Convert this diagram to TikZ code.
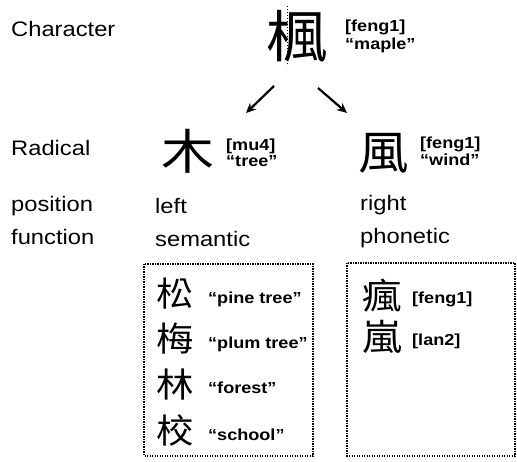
\documentclass[tikz,border=0pt]{standalone}
\usepackage{fontspec}
\setmainfont[FakeStretch=1.13]{Liberation Sans}
\newfontfamily\cjk[FakeStretch=1.1]{Noto Sans CJK TC}
\usetikzlibrary{arrows.meta}
\tikzset{
  lab/.style={anchor=base west, inner sep=0pt, font=\fontsize{21}{24}\selectfont},
  gl/.style={anchor=base west, inner sep=0pt, font=\fontsize{16}{18}\bfseries\selectfont},
  han/.style={inner sep=0pt},
  arr/.style={line width=2.2pt, -{Stealth[length=10pt,width=9pt]}},
  dotbox/.style={draw, line width=1.5pt, dash pattern=on 1.2pt off 1.3pt},
}
\begin{document}
\begin{tikzpicture}[x=1pt,y=-1pt]
\useasboundingbox (0,0) rectangle (517,462);
% row labels
\node[lab] (lchar) at (11,37) {Character};
\node[lab] (lrad) at (11,156) {Radical};
\node[lab] (lpos) at (11,212) {position};
\node[lab] (lfun) at (11,245) {function};
% top character
\node[han, font=\fontsize{56}{60}\cjk] (top) at (297,37) {楓};
\draw[line width=1pt, dotted] (287,6) -- (287,66);
\node[gl] (topp) at (345,32) {[feng1]};
\node[gl] (topm) at (345,50) {“maple”};
% arrows
\coordinate (a1s) at (274,86);
\coordinate (a1e) at (246,113);
\coordinate (a2s) at (318,88);
\coordinate (a2e) at (347,113);
\draw[arr] (a1s) -- (a1e);
\draw[arr] (a2s) -- (a2e);
% radicals
\node[han, font=\fontsize{48}{52}\cjk] (mu) at (188,151) {木};
\node[gl] (mup) at (226,151) {[mu4]};
\node[gl] (mum) at (226,167) {“tree”};
\node[han, font=\fontsize{46}{50}\cjk] (feng) at (384,153) {風};
\node[gl] (fengp) at (420,149) {[feng1]};
\node[gl] (fengm) at (420,166) {“wind”};
% position / function
\node[lab] (left) at (155,214) {left};
\node[lab] (sem) at (155,247) {semantic};
\node[lab] (right) at (360,211) {right};
\node[lab] (pho) at (360,244) {phonetic};
% boxes
\draw[dotbox] (144,264) rectangle (313,456);
\draw[dotbox] (347,263) rectangle (515,456);
% left box contents
\node[han, font=\fontsize{34}{38}\cjk] (c1) at (175,294) {松};
\node[gl] (g1) at (208,304) {“pine tree”};
\node[han, font=\fontsize{34}{38}\cjk] (c2) at (175,339) {梅};
\node[gl] (g2) at (208,349) {“plum tree”};
\node[han, font=\fontsize{34}{38}\cjk] (c3) at (175,385) {林};
\node[gl] (g3) at (208,393) {“forest”};
\node[han, font=\fontsize{34}{38}\cjk] (c4) at (175,430) {校};
\node[gl] (g4) at (208,440) {“school”};
% right box contents
\node[han, font=\fontsize{36}{40}\cjk] (d1) at (382,296) {瘋};
\node[gl] (h1) at (412,304) {[feng1]};
\node[han, font=\fontsize{36}{40}\cjk] (d2) at (382,337) {嵐};
\node[gl] (h2) at (412,346) {[lan2]};
\end{tikzpicture}
\end{document}
